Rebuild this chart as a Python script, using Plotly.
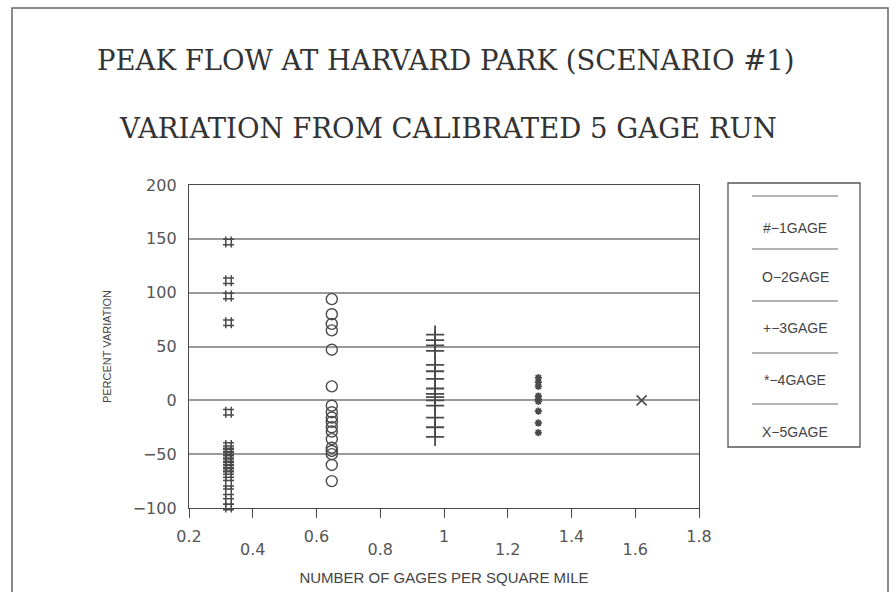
import plotly.graph_objects as go

# ---- data ----
series_names = ["#\u22121GAGE", "O\u22122GAGE", "+\u22123GAGE", "*\u22124GAGE", "X\u22125GAGE"]
x_gages = [0.324, 0.648, 0.972, 1.296, 1.62]
g1 = [147, 111, 97, 72, -11, -42, -45, -48, -51, -54, -57, -60, -63, -66, -69, -77, -85, -94, -99]
g2 = [94, 80, 71, 65, 47, 13, -5, -11, -16, -20, -25, -29, -36, -44, -47, -50, -60, -75]
g3 = [61, 56, 51, 46, 33, 27, 20, 11, 6, 3, 0, -5, -16, -25, -34]
g4 = [21, 17, 13, 4, 1, -1, -10, -21, -30]
g5 = [0]

x_ticks_upper = [0.2, 0.6, 1.0, 1.4, 1.8]
x_ticks_upper_text = ["0.2", "0.6", "1", "1.4", "1.8"]
x_ticks_lower = [0.4, 0.8, 1.2, 1.6]
x_ticks_lower_text = ["0.4", "0.8", "1.2", "1.6"]
y_ticks = [-100, -50, 0, 50, 100, 150, 200]

title1 = "PEAK FLOW AT HARVARD PARK (SCENARIO #1)"
title2 = "VARIATION FROM CALIBRATED 5 GAGE RUN"

INK = "#4a4a4a"
GRID = "#9a9a9a"
SANS = "Liberation Sans, Arial, sans-serif"
WIDE = "DejaVu Sans, sans-serif"
SERIF = "DejaVu Serif, serif"

W, H = 891, 592
L, R, T, B = 189, 192, 185, 84
PW, PH = W - L - R, H - T - B

def px(xp):
    return (xp - L) / PW

def py(yp):
    return (H - B - yp) / PH

fig = go.Figure()

symbols = ["hash-open", "circle-open", "cross-thin-open", "asterisk-open", "x-thin-open"]
sizes = [11, 11, 13, 6, 10]
widths = [1.5, 1.4, 1.8, 1.8, 1.6]
for xv, ys, name, sym, sz, lw in zip(x_gages, [g1, g2, g3, g4, g5], series_names, symbols, sizes, widths):
    fig.add_trace(go.Scatter(x=[xv] * len(ys), y=ys, mode="markers", name=name,
                             marker=dict(symbol=sym, size=sz, color=INK, line=dict(width=lw, color=INK)),
                             showlegend=False, cliponaxis=False))

fig.add_trace(go.Scatter(x=[0.2, 1.8], y=[None, None], xaxis="x2", showlegend=False, hoverinfo="skip"))

fig.update_layout(
    width=W, height=H,
    paper_bgcolor="white", plot_bgcolor="white",
    margin=dict(l=L, r=R, t=T, b=B, autoexpand=False),
    showlegend=False,
    xaxis=dict(range=[0.2, 1.8], tickvals=x_ticks_upper + x_ticks_lower,
               ticktext=x_ticks_upper_text + [""] * len(x_ticks_lower),
               ticks="outside", ticklen=9, tickwidth=1.3, tickcolor=INK,
               showgrid=False, zeroline=False, showline=True, linecolor=INK, linewidth=1.3,
               mirror=True, tickfont=dict(family=WIDE, size=16, color="#555"),
               ticklabelstandoff=5,
               title=dict(text="NUMBER OF GAGES PER SQUARE MILE", standoff=27,
                          font=dict(family=SANS, size=15, color="#444"))),
    xaxis2=dict(range=[0.2, 1.8], overlaying="x", side="bottom", anchor="y",
                tickvals=x_ticks_lower, ticktext=x_ticks_lower_text, ticks="",
                ticklabelstandoff=30, showgrid=False, zeroline=False, showline=False,
                tickfont=dict(family=WIDE, size=16, color="#555")),
    yaxis=dict(range=[-100, 200], tickvals=y_ticks, ticks="", showgrid=True, gridcolor=GRID,
               gridwidth=1.5, zeroline=False, showline=True, linecolor=INK, linewidth=1.3,
               mirror=True, tickfont=dict(family=WIDE, size=16, color="#555"), ticklabelstandoff=8,
               title=dict(text="PERCENT VARIATION", standoff=18,
                          font=dict(family=SANS, size=11, color="#444"))),
)

fig.add_annotation(x=px(446), y=py(60), xref="paper", yref="paper", text=title1, showarrow=False,
                   xanchor="center", yanchor="middle",
                   font=dict(family=SERIF, size=27.5, color="#333"))
fig.add_annotation(x=px(448), y=py(128), xref="paper", yref="paper", text=title2, showarrow=False,
                   xanchor="center", yanchor="middle",
                   font=dict(family=SERIF, size=27.5, color="#333"))

fig.add_shape(type="rect", xref="paper", yref="paper", x0=px(12), x1=px(888), y0=py(620), y1=py(8),
              line=dict(color="#666", width=1.5))

fig.add_shape(type="rect", xref="paper", yref="paper", x0=px(728), x1=px(860), y0=py(447), y1=py(183),
              line=dict(color="#555", width=1.3))
line_y = [196, 249, 301, 353, 404]
text_y = [228, 277, 328, 380, 432]
for name, ly, ty in zip(series_names, line_y, text_y):
    fig.add_shape(type="line", xref="paper", yref="paper", x0=px(752), x1=px(838), y0=py(ly), y1=py(ly),
                  line=dict(color=GRID, width=1.5))
    fig.add_annotation(x=px(795), y=py(ty), xref="paper", yref="paper", text=name, showarrow=False,
                       xanchor="center", yanchor="middle",
                       font=dict(family=SANS, size=14, color="#444"))

fig.write_html("out.html", config={"displayModeBar": False},
               post_script="document.body.style.margin='0px';")
